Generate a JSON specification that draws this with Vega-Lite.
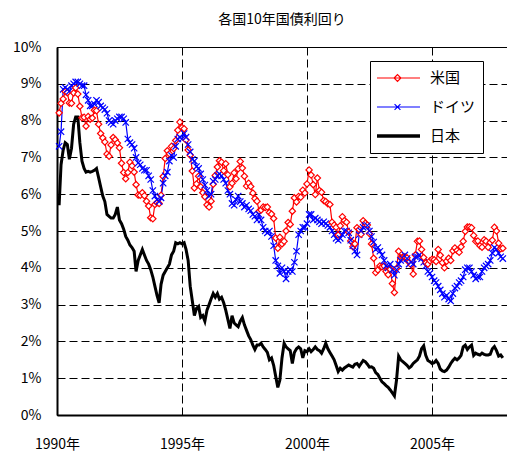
{
"$schema": "https://vega.github.io/schema/vega-lite/v6.json",
"width": 450, "height": 368,
"autosize": {"type": "none"},
"padding": {"left": 57, "top": 47, "right": 0, "bottom": 36},
"title": {"text": "各国10年国債利回り", "fontSize": 14, "fontWeight": "normal", "font": "Noto Sans CJK JP", "color": "#000", "offset": 13, "anchor": "middle", "frame": "group"},
"config": {"font": "Noto Sans CJK JP", "view": {"stroke": "#000", "strokeWidth": 1}},
"data": {"format": {"parse": {"d": "utc:'%Y-%m'"}}, "values": [
{"d":"1990-02","米国":8.21,"ドイツ":7.30,"日本":5.70},
{"d":"1990-03","米国":8.47,"ドイツ":7.70,"日本":6.80},
{"d":"1990-04","米国":8.59,"ドイツ":8.85,"日本":7.20},
{"d":"1990-05","米国":8.79,"ドイツ":8.90,"日本":7.40},
{"d":"1990-06","米国":8.76,"ドイツ":8.85,"日本":7.35},
{"d":"1990-07","米国":8.48,"ドイツ":8.80,"日本":6.95},
{"d":"1990-08","米国":8.47,"ドイツ":8.95,"日本":7.25},
{"d":"1990-09","米国":8.75,"ドイツ":9.00,"日本":7.90},
{"d":"1990-10","米国":8.89,"ドイツ":9.05,"日本":8.10},
{"d":"1990-11","米国":8.72,"ドイツ":9.05,"日本":8.10},
{"d":"1990-12","米国":8.39,"ドイツ":9.00,"日本":7.40},
{"d":"1991-01","米国":8.08,"ドイツ":8.95,"日本":6.90},
{"d":"1991-02","米国":8.09,"ドイツ":8.95,"日本":6.70},
{"d":"1991-03","米国":7.85,"ドイツ":8.70,"日本":6.60},
{"d":"1991-04","米国":8.11,"ドイツ":8.55,"日本":6.62},
{"d":"1991-05","米国":8.04,"ドイツ":8.40,"日本":6.60},
{"d":"1991-06","米国":8.07,"ドイツ":8.40,"日本":6.62},
{"d":"1991-07","米国":8.28,"ドイツ":8.45,"日本":6.65},
{"d":"1991-08","米国":8.27,"ドイツ":8.55,"日本":6.70},
{"d":"1991-09","米国":7.90,"ドイツ":8.50,"日本":6.45},
{"d":"1991-10","米国":7.65,"ドイツ":8.40,"日本":6.20},
{"d":"1991-11","米国":7.53,"ドイツ":8.35,"日本":5.95},
{"d":"1991-12","米国":7.42,"ドイツ":8.30,"日本":5.80},
{"d":"1992-01","米国":7.09,"ドイツ":8.20,"日本":5.45},
{"d":"1992-02","米国":7.03,"ドイツ":8.00,"日本":5.40},
{"d":"1992-03","米国":7.34,"ドイツ":7.95,"日本":5.35},
{"d":"1992-04","米国":7.54,"ドイツ":7.90,"日本":5.35},
{"d":"1992-05","米国":7.48,"ドイツ":8.00,"日本":5.45},
{"d":"1992-06","米国":7.39,"ドイツ":8.05,"日本":5.65},
{"d":"1992-07","米国":7.26,"ドイツ":8.10,"日本":5.30},
{"d":"1992-08","米国":6.84,"ドイツ":8.10,"日本":5.20},
{"d":"1992-09","米国":6.59,"ドイツ":8.05,"日本":5.05},
{"d":"1992-10","米国":6.42,"ドイツ":7.95,"日本":4.85},
{"d":"1992-11","米国":6.59,"ドイツ":7.50,"日本":4.75},
{"d":"1992-12","米国":6.87,"ドイツ":7.40,"日本":4.62},
{"d":"1993-01","米国":6.77,"ドイツ":7.35,"日本":4.55},
{"d":"1993-02","米国":6.60,"ドイツ":7.25,"日本":4.45},
{"d":"1993-03","米国":6.26,"ドイツ":7.00,"日本":3.90},
{"d":"1993-04","米国":5.98,"ドイツ":6.85,"日本":4.20},
{"d":"1993-05","米国":5.97,"ドイツ":6.80,"日本":4.35},
{"d":"1993-06","米国":6.04,"ドイツ":6.70,"日本":4.50},
{"d":"1993-07","米国":5.96,"ドイツ":6.65,"日本":4.35},
{"d":"1993-08","米国":5.81,"ドイツ":6.65,"日本":4.20},
{"d":"1993-09","米国":5.68,"ドイツ":6.50,"日本":4.10},
{"d":"1993-10","米国":5.36,"ドイツ":6.40,"日本":3.95},
{"d":"1993-11","米国":5.33,"ドイツ":6.10,"日本":3.75},
{"d":"1993-12","米国":5.72,"ドイツ":5.95,"日本":3.50},
{"d":"1994-01","米国":5.77,"ドイツ":5.85,"日本":3.25},
{"d":"1994-02","米国":5.75,"ドイツ":5.80,"日本":3.05},
{"d":"1994-03","米国":5.97,"ドイツ":5.90,"日本":3.55},
{"d":"1994-04","米国":6.48,"ドイツ":6.30,"日本":3.80},
{"d":"1994-05","米国":6.97,"ドイツ":6.50,"日本":3.90},
{"d":"1994-06","米国":7.18,"ドイツ":6.60,"日本":4.00},
{"d":"1994-07","米国":7.10,"ドイツ":6.90,"日本":4.10},
{"d":"1994-08","米国":7.30,"ドイツ":7.05,"日本":4.35},
{"d":"1994-09","米国":7.24,"ドイツ":7.00,"日本":4.45},
{"d":"1994-10","米国":7.46,"ドイツ":7.30,"日本":4.68},
{"d":"1994-11","米国":7.74,"ドイツ":7.50,"日本":4.65},
{"d":"1994-12","米国":7.96,"ドイツ":7.55,"日本":4.68},
{"d":"1995-01","米国":7.81,"ドイツ":7.50,"日本":4.65},
{"d":"1995-02","米国":7.78,"ドイツ":7.65,"日本":4.68},
{"d":"1995-03","米国":7.47,"ドイツ":7.55,"日本":4.50},
{"d":"1995-04","米国":7.20,"ドイツ":7.35,"日本":4.20},
{"d":"1995-05","米国":7.06,"ドイツ":7.15,"日本":3.50},
{"d":"1995-06","米国":6.63,"ドイツ":6.95,"日本":3.10},
{"d":"1995-07","米国":6.17,"ドイツ":6.90,"日本":2.70},
{"d":"1995-08","米国":6.28,"ドイツ":6.75,"日本":2.90},
{"d":"1995-09","米国":6.49,"ドイツ":6.70,"日本":2.95},
{"d":"1995-10","米国":6.20,"ドイツ":6.55,"日本":2.65},
{"d":"1995-11","米国":6.04,"ドイツ":6.40,"日本":2.70},
{"d":"1995-12","米国":5.93,"ドイツ":6.25,"日本":2.55},
{"d":"1996-01","米国":5.71,"ドイツ":6.10,"日本":2.85},
{"d":"1996-02","米国":5.65,"ドイツ":5.95,"日本":3.00},
{"d":"1996-03","米国":5.81,"ドイツ":6.00,"日本":3.15},
{"d":"1996-04","米国":6.27,"ドイツ":6.35,"日本":3.30},
{"d":"1996-05","米国":6.51,"ドイツ":6.40,"日本":3.20},
{"d":"1996-06","米国":6.74,"ドイツ":6.50,"日本":3.30},
{"d":"1996-07","米国":6.91,"ドイツ":6.55,"日本":3.15},
{"d":"1996-08","米国":6.87,"ドイツ":6.50,"日本":3.20},
{"d":"1996-09","米国":6.64,"ドイツ":6.40,"日本":3.05},
{"d":"1996-10","米国":6.83,"ドイツ":6.30,"日本":2.85},
{"d":"1996-11","米国":6.53,"ドイツ":6.10,"日本":2.60},
{"d":"1996-12","米国":6.20,"ドイツ":6.00,"日本":2.35},
{"d":"1997-01","米国":6.30,"ドイツ":5.75,"日本":2.70},
{"d":"1997-02","米国":6.58,"ドイツ":5.70,"日本":2.50},
{"d":"1997-03","米国":6.42,"ドイツ":5.85,"日本":2.45},
{"d":"1997-04","米国":6.69,"ドイツ":5.95,"日本":2.40},
{"d":"1997-05","米国":6.89,"ドイツ":5.80,"日本":2.55},
{"d":"1997-06","米国":6.71,"ドイツ":5.75,"日本":2.65},
{"d":"1997-07","米国":6.49,"ドイツ":5.65,"日本":2.45},
{"d":"1997-08","米国":6.22,"ドイツ":5.70,"日本":2.30},
{"d":"1997-09","米国":6.30,"ドイツ":5.60,"日本":2.15},
{"d":"1997-10","米国":6.21,"ドイツ":5.55,"日本":2.05},
{"d":"1997-11","米国":6.03,"ドイツ":5.45,"日本":1.90},
{"d":"1997-12","米国":5.88,"ドイツ":5.40,"日本":1.78},
{"d":"1998-01","米国":5.81,"ドイツ":5.30,"日本":1.90},
{"d":"1998-02","米国":5.54,"ドイツ":5.45,"日本":1.90},
{"d":"1998-03","米国":5.57,"ドイツ":5.30,"日本":1.95},
{"d":"1998-04","米国":5.65,"ドイツ":5.10,"日本":1.85},
{"d":"1998-05","米国":5.64,"ドイツ":5.00,"日本":1.78},
{"d":"1998-06","米国":5.65,"ドイツ":4.95,"日本":1.70},
{"d":"1998-07","米国":5.50,"ドイツ":5.00,"日本":1.50},
{"d":"1998-08","米国":5.46,"ドイツ":4.85,"日本":1.55},
{"d":"1998-09","米国":5.34,"ドイツ":4.60,"日本":1.35},
{"d":"1998-10","米国":4.81,"ドイツ":4.20,"日本":1.05},
{"d":"1998-11","米国":4.53,"ドイツ":4.05,"日本":0.75},
{"d":"1998-12","米国":4.83,"ドイツ":3.85,"日本":0.95},
{"d":"1999-01","米国":4.65,"ドイツ":4.00,"日本":1.55},
{"d":"1999-02","米国":4.72,"ドイツ":3.90,"日本":1.95},
{"d":"1999-03","米国":5.00,"ドイツ":3.70,"日本":1.85},
{"d":"1999-04","米国":5.23,"ドイツ":3.90,"日本":1.80},
{"d":"1999-05","米国":5.18,"ドイツ":3.95,"日本":1.75},
{"d":"1999-06","米国":5.54,"ドイツ":3.90,"日本":1.40},
{"d":"1999-07","米国":5.90,"ドイツ":4.15,"日本":1.70},
{"d":"1999-08","米国":5.79,"ドイツ":4.45,"日本":1.80},
{"d":"1999-09","米国":5.94,"ドイツ":4.90,"日本":1.85},
{"d":"1999-10","米国":5.92,"ドイツ":5.00,"日本":1.80},
{"d":"1999-11","米国":6.11,"ドイツ":5.10,"日本":1.55},
{"d":"1999-12","米国":6.03,"ドイツ":5.10,"日本":1.75},
{"d":"2000-01","米国":6.28,"ドイツ":5.20,"日本":1.72},
{"d":"2000-02","米国":6.66,"ドイツ":5.45,"日本":1.80},
{"d":"2000-03","米国":6.52,"ドイツ":5.45,"日本":1.72},
{"d":"2000-04","米国":6.26,"ドイツ":5.30,"日本":1.78},
{"d":"2000-05","米国":5.99,"ドイツ":5.35,"日本":1.85},
{"d":"2000-06","米国":6.44,"ドイツ":5.30,"日本":1.78},
{"d":"2000-07","米国":6.10,"ドイツ":5.25,"日本":1.75},
{"d":"2000-08","米国":6.05,"ドイツ":5.20,"日本":1.68},
{"d":"2000-09","米国":5.83,"ドイツ":5.25,"日本":1.80},
{"d":"2000-10","米国":5.80,"ドイツ":5.20,"日本":1.95},
{"d":"2000-11","米国":5.74,"ドイツ":5.15,"日本":1.80},
{"d":"2000-12","米国":5.72,"ドイツ":5.10,"日本":1.70},
{"d":"2001-01","米国":5.24,"ドイツ":5.00,"日本":1.60},
{"d":"2001-02","米国":5.16,"ドイツ":4.90,"日本":1.50},
{"d":"2001-03","米国":5.10,"ドイツ":4.80,"日本":1.35},
{"d":"2001-04","米国":4.89,"ドイツ":4.75,"日本":1.18},
{"d":"2001-05","米国":5.14,"ドイツ":4.80,"日本":1.27},
{"d":"2001-06","米国":5.39,"ドイツ":4.90,"日本":1.22},
{"d":"2001-07","米国":5.28,"ドイツ":5.00,"日本":1.28},
{"d":"2001-08","米国":5.24,"ドイツ":5.00,"日本":1.32},
{"d":"2001-09","米国":4.97,"ドイツ":4.95,"日本":1.36},
{"d":"2001-10","米国":4.73,"ドイツ":4.75,"日本":1.33},
{"d":"2001-11","米国":4.57,"ドイツ":4.60,"日本":1.30},
{"d":"2001-12","米国":4.65,"ドイツ":4.45,"日本":1.38},
{"d":"2002-01","米国":5.09,"ドイツ":4.35,"日本":1.40},
{"d":"2002-02","米国":5.04,"ドイツ":4.90,"日本":1.32},
{"d":"2002-03","米国":4.91,"ドイツ":5.00,"日本":1.40},
{"d":"2002-04","米国":5.28,"ドイツ":5.10,"日本":1.48},
{"d":"2002-05","米国":5.21,"ドイツ":5.15,"日本":1.45},
{"d":"2002-06","米国":5.16,"ドイツ":5.15,"日本":1.38},
{"d":"2002-07","米国":4.93,"ドイツ":5.00,"日本":1.30},
{"d":"2002-08","米国":4.65,"ドイツ":4.85,"日本":1.31},
{"d":"2002-09","米国":4.26,"ドイツ":4.70,"日本":1.27},
{"d":"2002-10","米国":3.87,"ドイツ":4.50,"日本":1.15},
{"d":"2002-11","米国":3.94,"ドイツ":4.55,"日本":1.10},
{"d":"2002-12","米国":4.05,"ドイツ":4.45,"日本":1.00},
{"d":"2003-01","米国":4.03,"ドイツ":4.35,"日本":0.90},
{"d":"2003-02","米国":4.05,"ドイツ":4.20,"日本":0.85},
{"d":"2003-03","米国":3.90,"ドイツ":4.05,"日本":0.80},
{"d":"2003-04","米国":3.81,"ドイツ":4.00,"日本":0.75},
{"d":"2003-05","米国":3.96,"ドイツ":4.10,"日本":0.68},
{"d":"2003-06","米国":3.57,"ドイツ":3.95,"日本":0.60},
{"d":"2003-07","米国":3.33,"ドイツ":3.80,"日本":0.52},
{"d":"2003-08","米国":3.98,"ドイツ":3.95,"日本":0.95},
{"d":"2003-09","米国":4.45,"ドイツ":4.10,"日本":1.60},
{"d":"2003-10","米国":4.27,"ドイツ":4.20,"日本":1.50},
{"d":"2003-11","米国":4.29,"ドイツ":4.25,"日本":1.45},
{"d":"2003-12","米国":4.30,"ドイツ":4.35,"日本":1.40},
{"d":"2004-01","米国":4.27,"ドイツ":4.25,"日本":1.35},
{"d":"2004-02","米国":4.15,"ドイツ":4.10,"日本":1.28},
{"d":"2004-03","米国":4.08,"ドイツ":4.15,"日本":1.32},
{"d":"2004-04","米国":3.83,"ドイツ":4.10,"日本":1.40},
{"d":"2004-05","米国":4.35,"ドイツ":4.30,"日本":1.45},
{"d":"2004-06","米国":4.72,"ドイツ":4.30,"日本":1.50},
{"d":"2004-07","米国":4.73,"ドイツ":4.35,"日本":1.60},
{"d":"2004-08","米国":4.50,"ドイツ":4.25,"日本":1.80},
{"d":"2004-09","米国":4.28,"ドイツ":4.15,"日本":1.88},
{"d":"2004-10","米国":4.13,"ドイツ":4.05,"日本":1.62},
{"d":"2004-11","米国":4.10,"ドイツ":3.90,"日本":1.48},
{"d":"2004-12","米国":4.19,"ドイツ":3.85,"日本":1.45},
{"d":"2005-01","米国":4.23,"ドイツ":3.75,"日本":1.40},
{"d":"2005-02","米国":4.22,"ドイツ":3.65,"日本":1.42},
{"d":"2005-03","米国":4.17,"ドイツ":3.60,"日本":1.48},
{"d":"2005-04","米国":4.50,"ドイツ":3.50,"日本":1.40},
{"d":"2005-05","米国":4.34,"ドイツ":3.40,"日本":1.25},
{"d":"2005-06","米国":4.14,"ドイツ":3.30,"日本":1.20},
{"d":"2005-07","米国":4.00,"ドイツ":3.20,"日本":1.18},
{"d":"2005-08","米国":4.18,"ドイツ":3.25,"日本":1.22},
{"d":"2005-09","米国":4.26,"ドイツ":3.15,"日本":1.30},
{"d":"2005-10","米国":4.20,"ドイツ":3.10,"日本":1.40},
{"d":"2005-11","米国":4.46,"ドイツ":3.30,"日本":1.48},
{"d":"2005-12","米国":4.54,"ドイツ":3.45,"日本":1.54},
{"d":"2006-01","米国":4.47,"ドイツ":3.50,"日本":1.50},
{"d":"2006-02","米国":4.42,"ドイツ":3.60,"日本":1.55},
{"d":"2006-03","米国":4.57,"ドイツ":3.65,"日本":1.62},
{"d":"2006-04","米国":4.72,"ドイツ":3.75,"日本":1.85},
{"d":"2006-05","米国":4.99,"ドイツ":3.95,"日本":1.90},
{"d":"2006-06","米国":5.11,"ドイツ":4.00,"日本":1.78},
{"d":"2006-07","米国":5.11,"ドイツ":4.00,"日本":1.85},
{"d":"2006-08","米国":5.09,"ドイツ":3.90,"日本":1.90},
{"d":"2006-09","米国":4.88,"ドイツ":3.80,"日本":1.62},
{"d":"2006-10","米国":4.72,"ドイツ":3.70,"日本":1.68},
{"d":"2006-11","米国":4.73,"ドイツ":3.75,"日本":1.65},
{"d":"2006-12","米国":4.60,"ドイツ":3.75,"日本":1.63},
{"d":"2007-01","米国":4.56,"ドイツ":3.90,"日本":1.68},
{"d":"2007-02","米国":4.76,"ドイツ":4.00,"日本":1.65},
{"d":"2007-03","米国":4.72,"ドイツ":4.05,"日本":1.63},
{"d":"2007-04","米国":4.56,"ドイツ":4.10,"日本":1.63},
{"d":"2007-05","米国":4.69,"ドイツ":4.20,"日本":1.65},
{"d":"2007-06","米国":4.75,"ドイツ":4.40,"日本":1.80},
{"d":"2007-07","米国":5.10,"ドイツ":4.55,"日本":1.86},
{"d":"2007-08","米国":5.00,"ドイツ":4.50,"日本":1.75},
{"d":"2007-09","米国":4.67,"ドイツ":4.40,"日本":1.60},
{"d":"2007-10","米国":4.52,"ドイツ":4.30,"日本":1.63},
{"d":"2007-11","米国":4.53,"ドイツ":4.25,"日本":1.55}
]},
"transform": [{"fold": ["米国", "ドイツ", "日本"], "as": ["s", "v"]}],
"encoding": {
  "x": {"field": "d", "type": "temporal",
    "scale": {"type": "utc", "domain": [{"year": 1990, "month": 1, "date": 1, "utc": true}, {"year": 2008, "month": 1, "date": 1, "utc": true}]},
    "axis": {"title": null, "values": [{"year": 1990, "month": 1, "date": 1, "utc": true}, {"year": 1995, "month": 1, "date": 1, "utc": true}, {"year": 2000, "month": 1, "date": 1, "utc": true}, {"year": 2005, "month": 1, "date": 1, "utc": true}],
      "labelExpr": "utcyear(datum.value) + '年'", "labelFlush": false, "labelOverlap": false, "labelFontSize": 14, "labelColor": "#000", "labelPadding": 22,
      "ticks": false, "domainColor": "#000", "domainWidth": 2, "grid": true, "gridColor": "#000", "gridDash": [8, 4], "gridWidth": 1}},
  "y": {"field": "v", "type": "quantitative",
    "scale": {"domain": [0, 10], "nice": false},
    "axis": {"title": null, "values": [0, 1, 2, 3, 4, 5, 6, 7, 8, 9, 10], "labelExpr": "datum.value + '%'", "labelFontSize": 14, "labelColor": "#000", "labelPadding": 16,
      "ticks": false, "domainColor": "#000", "domainWidth": 2, "grid": true, "gridColor": "#000", "gridDash": [8, 4], "gridWidth": 1}}
},
"layer": [
  {"transform": [{"filter": "datum.s !== '日本'"}],
   "mark": {"type": "line", "strokeWidth": 1.2},
   "encoding": {"color": {"field": "s", "type": "nominal",
      "scale": {"domain": ["米国", "ドイツ", "日本"], "range": ["#ff0000", "#0000ff", "#000000"]},
      "legend": {"title": null, "orient": "none", "legendX": 313, "legendY": 14,
        "labelFontSize": 15, "labelColor": "#000", "labelFont": "Noto Sans CJK JP",
        "strokeColor": "#000", "fillColor": "#fff", "padding": 7, "rowPadding": 9, "columnPadding": 0, "clipHeight": 20,
        "symbolSize": 2025, "symbolOffset": 13, "labelOffset": 25,
        "encode": {"symbols": {"update": {
          "shape": {"signal": "datum.value === '米国' ? 'M-1,0L1,0M-0.15,0L0,-0.15L0.15,0L0,0.15Z' : datum.value === 'ドイツ' ? 'M-1,0L1,0M-0.13,-0.13L0.13,0.13M-0.13,0.13L0.13,-0.13' : 'M-1,0L1,0'"},
          "strokeWidth": {"signal": "datum.value === '日本' ? 3.5 : 1.2"},
          "fill": {"value": "#fff"},
          "opacity": {"value": 1}}}}}}}},
  {"transform": [{"filter": "datum.s === '日本'"}],
   "mark": {"type": "line", "strokeWidth": 3},
   "encoding": {"color": {"field": "s", "type": "nominal"}}},
  {"transform": [{"filter": "datum.s !== '日本'"}],
   "mark": {"type": "point", "filled": true, "fill": "#fff", "strokeWidth": 1.2, "size": 40, "opacity": 1},
   "encoding": {
     "shape": {"field": "s", "type": "nominal", "scale": {"domain": ["米国", "ドイツ"], "range": ["diamond", "M-1,-1L1,1M-1,1L1,-1"]}, "legend": null},
     "stroke": {"field": "s", "type": "nominal", "scale": {"domain": ["米国", "ドイツ"], "range": ["#ff0000", "#0000ff"]}, "legend": null}}}
]
}
